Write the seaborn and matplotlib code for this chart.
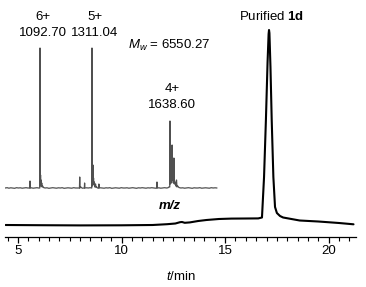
import numpy as np
import pandas as pd
import matplotlib
matplotlib.use("Agg")
import matplotlib.pyplot as plt
from matplotlib.ticker import MultipleLocator, FixedLocator
import seaborn as sns

# ---- HPLC trace (retention time in min, detector signal, arbitrary units) ----
hplc_time = [4.4, 6.0, 8.0, 10.0, 11.5, 12.2, 12.6, 12.82, 12.92, 13.05, 13.3, 13.7,
             14.1, 14.7, 15.3, 16.0, 16.6, 16.78, 16.88, 16.97, 17.05, 17.10, 17.12,
             17.14, 17.19, 17.25, 17.33, 17.41, 17.5, 17.65, 17.8, 18.2, 18.6, 19.5,
             20.5, 21.2]
hplc_signal = [12.0, 11.8, 11.6, 11.7, 12.0, 12.8, 13.5, 14.8, 15.0, 14.2, 14.6, 16.0,
               17.0, 18.0, 18.4, 18.5, 18.6, 19.5, 60.0, 117.0, 175.0, 203.0, 207.0,
               204.0, 170.0, 117.0, 60.0, 30.0, 24.0, 21.0, 19.5, 18.0, 16.5, 15.5,
               14.0, 12.7]

# ---- ESI-MS inset (m/z, relative intensity) ----
ms_mz = [945.7, 955, 962, 970, 978, 986, 994, 1002, 1010, 1018, 1026, 1034, 1042,
         1049.9, 1050.7, 1051.5, 1056, 1064, 1072, 1080, 1086,
         1091.8, 1092.7, 1093.6, 1095.0, 1096.0, 1097.2, 1098.5, 1100.0, 1101.5, 1104, 1107,
         1114, 1122, 1130, 1138, 1146, 1154, 1162, 1170, 1178, 1186, 1194, 1202, 1210,
         1218, 1226, 1234, 1242, 1250,
         1258.5, 1259.5, 1260.5, 1264, 1270, 1279, 1280, 1281, 1288, 1296, 1303,
         1310.1, 1311.0, 1311.9, 1313, 1314, 1315.2, 1316.3, 1317.5, 1319, 1321, 1323,
         1326, 1328, 1331, 1334, 1339, 1340, 1341, 1346,
         1354, 1362, 1370, 1378, 1386, 1394, 1402, 1410, 1418, 1426, 1434, 1442, 1450,
         1458, 1466, 1474, 1482, 1490, 1498, 1506, 1514, 1522, 1530, 1538, 1546, 1554,
         1562, 1570, 1578,
         1583, 1584, 1585, 1592, 1600, 1608, 1616, 1624, 1630, 1634,
         1637.7, 1638.6, 1639.5, 1641, 1643, 1645, 1647.5, 1649, 1651, 1653, 1655, 1657,
         1660, 1663, 1666, 1668, 1671, 1676,
         1684, 1692, 1700, 1708, 1716, 1724, 1732, 1740, 1748, 1756, 1764, 1772, 1780,
         1788, 1796, 1804, 1812, 1820, 1828, 1836]
ms_int = [4, 4.3, 3.8, 4.2, 4, 3.7, 4.3, 4, 4.2, 3.8, 4, 4.3, 4,
          4, 11, 4, 4.2, 3.8, 4, 4.3, 4,
          4, 144, 6, 17, 8, 12, 6, 9, 5, 6, 4.5,
          4, 4.2, 3.7, 4, 4.3, 4, 3.8, 4.2, 4, 4.3, 3.7, 4, 4.2,
          4, 3.8, 4.3, 4, 4,
          4, 15, 4, 5, 3.8, 4, 9, 4, 4.2, 4, 4.3,
          4, 144, 6, 14, 9, 27, 8, 14, 7, 10, 5,
          8, 4.5, 5, 4, 4, 8, 4, 4.2,
          4, 3.8, 4.2, 4, 4.3, 3.7, 4, 4.2, 4, 3.8, 4.3, 4, 4,
          4.2, 3.8, 4, 4.3, 4, 3.7, 4.2, 4, 4.3, 4, 3.8, 4.2, 4,
          4.3, 4, 3.8,
          4, 10, 4, 4.2, 3.8, 4, 4.3, 4, 4.2, 5,
          5, 71, 8, 12, 10, 9, 47, 12, 14, 9, 34, 8,
          10, 6, 12, 5, 6, 4.5,
          4, 4.2, 3.8, 4, 4.3, 4, 3.7, 4.2, 4, 4, 4.3, 3.8, 4,
          4.2, 4, 3.8, 4.3, 4, 4.2, 4]

peak_labels = ["6+\n1092.70", "5+\n1311.04", "4+\n1638.60"]
major_ticks = [5, 10, 15, 20]

sns.set_theme(style="white")
plt.rcParams['font.family'] = ['Liberation Sans', 'DejaVu Sans']
plt.rcParams['mathtext.fontset'] = 'custom'
plt.rcParams['mathtext.rm'] = 'Liberation Sans'
plt.rcParams['mathtext.it'] = 'Liberation Sans:italic'
plt.rcParams['mathtext.bf'] = 'Liberation Sans:bold'
plt.rcParams['text.color'] = 'black'
plt.rcParams['axes.labelcolor'] = 'black'
plt.rcParams['xtick.color'] = 'black'

W, H = 366, 287
fig = plt.figure(figsize=(W / 100, H / 100), dpi=100)

def px_rect(x0, y0, x1, y1):
    return [x0 / W, 1 - y1 / H, (x1 - x0) / W, (y1 - y0) / H]

# main axes
ax = fig.add_axes(px_rect(5, 5, 356, 237))
hplc = pd.DataFrame({"t": hplc_time, "s": hplc_signal})
sns.lineplot(data=hplc, x="t", y="s", ax=ax, color="black", lw=1.5,
             estimator=None, sort=False)
ax.set_xlim(4.372, 21.32)
ax.set_ylim(0, 232)
for s in ["top", "right", "left"]:
    ax.spines[s].set_visible(False)
ax.spines["bottom"].set_color("black")
ax.spines["bottom"].set_linewidth(0.9)
ax.set_yticks([])
ax.xaxis.set_major_locator(FixedLocator(major_ticks))
ax.xaxis.set_minor_locator(MultipleLocator(0.5))
ax.tick_params(axis="x", which="major", bottom=True, direction="out", length=4,
               width=0.9, color="black", labelsize=9.5, pad=2, labelcolor="black")
ax.tick_params(axis="x", which="minor", bottom=True, direction="out", length=3,
               width=0.8, color="black")
ax.set_xlabel("$t$/min", fontsize=9.5, color="black", labelpad=9)
ax.set_ylabel("")
ax.patch.set_alpha(0)

# inset MS
ins = fig.add_axes(px_rect(5, 40, 218, 192))
ms = pd.DataFrame({"mz": ms_mz, "i": ms_int})
sns.lineplot(data=ms, x="mz", y="i", ax=ins, color="#505050", lw=0.9,
             estimator=None, sort=False)
ins.set_xlim(945.7, 1840.3)
ins.set_ylim(0, 152)
ins.axis("off")

# labels
kw = dict(ha="center", va="center", fontsize=9.5, color="black")
fig.text(43 / W, 1 - 25 / H, peak_labels[0], linespacing=1.45, **kw)
fig.text(95 / W, 1 - 25 / H, peak_labels[1], linespacing=1.45, **kw)
fig.text(172 / W, 1 - 97 / H, peak_labels[2], linespacing=1.45, **kw)
fig.text(169 / W, 1 - 45 / H, "$M_w$ = 6550.27", **kw)
fig.text(272 / W, 1 - 17 / H, r"Purified $\mathbf{1d}$", **kw)
fig.text(170 / W, 1 - 206 / H, "m/z", fontweight="bold", fontstyle="italic", **kw)

fig.savefig("out.png", dpi=100, facecolor="white")
